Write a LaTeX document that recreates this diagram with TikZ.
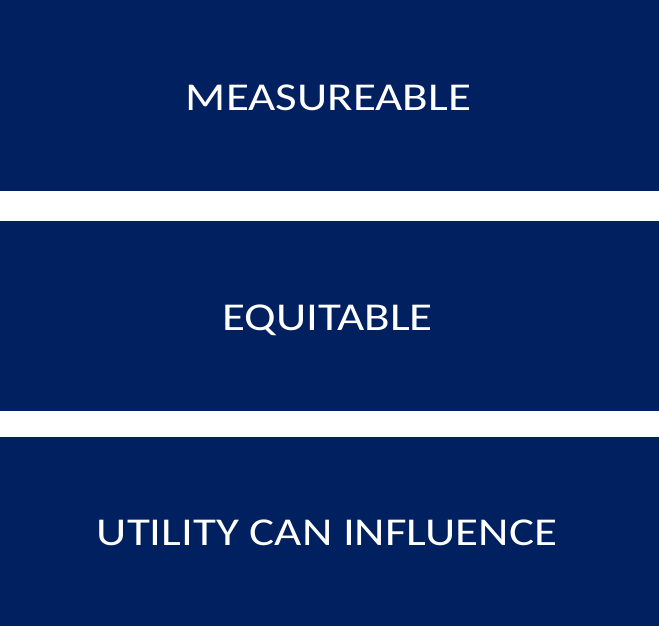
\documentclass[tikz,border=0pt]{standalone}
\usepackage{fontspec}
\setmainfont{Carlito}
\definecolor{navy}{HTML}{002060}
\begin{document}
\begin{tikzpicture}[x=1pt,y=1pt,
  band/.style={fill=navy,draw=none},
  bandtext/.style={text=white,font=\fontsize{39.5}{47}\selectfont,inner sep=0pt,anchor=base,xscale=1.19,transform shape}]
\useasboundingbox (0,0) rectangle (659,626);
\fill[white] (0,0) rectangle (659,626);
\path[band] (0,435) rectangle (659,626);
\path[band] (0,215) rectangle (659,405);
\path[band] (0,0) rectangle (659,189);
\node[bandtext] (m) at (328.5,515) {MEASUREABLE};
\node[bandtext] (e) at (327.5,295) {EQUITABLE};
\node[bandtext] (u) at (327,80) {UTILITY CAN INFLUENCE};
\end{tikzpicture}
\end{document}
